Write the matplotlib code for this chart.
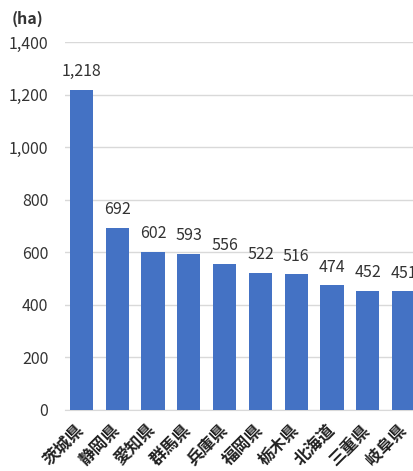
import matplotlib
matplotlib.use("Agg")
import matplotlib.pyplot as plt
from matplotlib.ticker import FuncFormatter

plt.rcParams['font.family'] = ['Noto Sans CJK JP', 'DejaVu Sans']

categories = ["茨城県", "静岡県", "愛知県", "群馬県", "兵庫県", "福岡県", "栃木県", "北海道", "三重県", "岐阜県"]
values = [1218, 692, 602, 593, 556, 522, 516, 474, 452, 451]
yticks = [0, 200, 400, 600, 800, 1000, 1200, 1400]

fig = plt.figure(figsize=(4.14, 4.71), dpi=100)
ax = fig.add_axes([65/414, 61/471, 1 - 65/414, (410-42)/471])

x = list(range(len(categories)))
ax.bar(x, values, width=0.65, color="#4472c4", zorder=3)
for xi, v in zip(x, values):
    ax.annotate(f"{v:,}", (xi, v), xytext=(0, 7), textcoords="offset points",
                ha="center", va="bottom", fontsize=11.5, color="#333333")

ax.set_ylim(0, 1400)
ax.set_yticks(yticks)
ax.yaxis.set_major_formatter(FuncFormatter(lambda v, p: f"{int(v):,}"))
ax.set_xlim(-0.46, 9.29)
ax.set_xticks(x)
ax.set_xticklabels([""] * len(categories))
for xi, cat in zip(x, categories):
    ax.annotate(cat, (xi, 0), xycoords=ax.get_xaxis_transform(),
                xytext=(-4.5, -8), textcoords="offset points",
                rotation=45, ha="right", va="top", rotation_mode="anchor",
                fontsize=12, fontweight="bold", color="#222222",
                annotation_clip=False)
ax.grid(axis="y", color="#d9d9d9", linewidth=1, zorder=0)
for s in ["top", "right", "left"]:
    ax.spines[s].set_visible(False)
ax.spines["bottom"].set_color("#d9d9d9")
ax.tick_params(axis="both", length=0)
ax.tick_params(axis="y", labelsize=11.5, labelcolor="#333333", pad=12)

fig.text(12/414, 1 - 19/471, "(ha)", fontsize=11.5, fontweight="bold", color="#333333", va="center", ha="left")

fig.savefig("out.png", dpi=100)
